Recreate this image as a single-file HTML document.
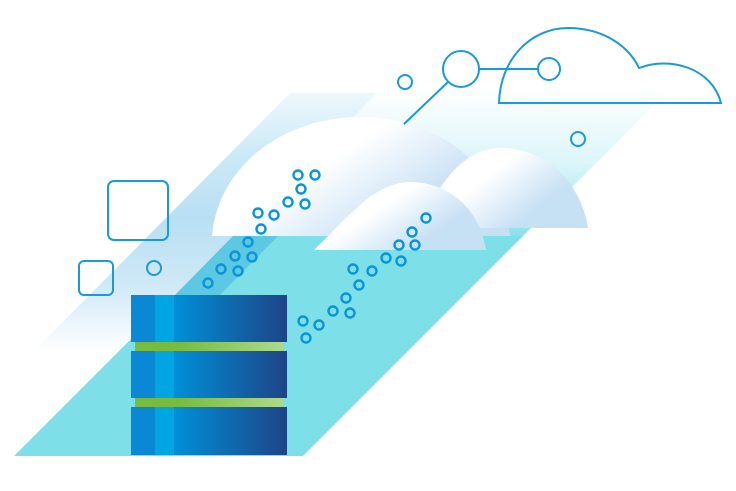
<!DOCTYPE html>
<html><head><meta charset="utf-8"><style>html,body{margin:0;padding:0;background:#fff}svg{display:block}</style></head>
<body>
<svg width="736" height="491" viewBox="0 0 736 491" xmlns="http://www.w3.org/2000/svg">
<defs>
<linearGradient id="band" x1="0" y1="85" x2="0" y2="352" gradientUnits="userSpaceOnUse">
<stop offset="0" stop-color="#f2f9fd"/><stop offset="0.25" stop-color="#cdeaf7"/><stop offset="0.5" stop-color="#b8dff3"/><stop offset="0.75" stop-color="#cfe9f7"/><stop offset="1" stop-color="#ffffff"/></linearGradient>
<linearGradient id="cy" x1="0" y1="88" x2="0" y2="240" gradientUnits="userSpaceOnUse">
<stop offset="0" stop-color="#ffffff"/><stop offset="0.5" stop-color="#dbf5f9"/><stop offset="1" stop-color="#86e0ea"/></linearGradient>
<linearGradient id="cl" x1="0" y1="0" x2="1" y2="0.6">
<stop offset="0.45" stop-color="#ffffff"/><stop offset="0.85" stop-color="#c6e0f4"/></linearGradient>
<linearGradient id="srv" x1="174" y1="0" x2="287" y2="0" gradientUnits="userSpaceOnUse">
<stop offset="0" stop-color="#0090d8"/><stop offset="1" stop-color="#1e4488"/></linearGradient>
<linearGradient id="gr" x1="135" y1="0" x2="283" y2="0" gradientUnits="userSpaceOnUse">
<stop offset="0.3" stop-color="#78bb43"/><stop offset="1" stop-color="#acd98c"/></linearGradient>
</defs>
<polygon points="290,93 430,93 173,352 33,352" fill="url(#band)"/>
<polygon points="380,90 669,90 523,236 234,236" fill="url(#cy)"/>
<polygon points="234,236 523,236 303,456 14,456" fill="#7ddfe8"/>
<polygon points="233,236 278,236 220,295 175,295" fill="#5cc8e3"/>
<path d="M212,236 C218,165 285,117 360,117 C440,117 502,170 510,236 Z" fill="url(#cl)"/>
<path d="M420,228 C440,175 470,148 500,148 C545,148 580,180 588,228 Z" fill="url(#cl)"/>
<path d="M314,250 C350,215 375,182 410,182 C450,182 480,210 486,250 Z" fill="url(#cl)"/>
<path d="M499,103 C500,60 530,28 568,28 C602,28 628,45 639,68 C670,56 712,68 721,103 Z" fill="none" stroke="#1a9ad8" stroke-width="2"/>
<g fill="none" stroke="#1a9ad8" stroke-width="2">
<circle cx="461" cy="69" r="18" fill="#fff"/><circle cx="549" cy="69" r="11" fill="#fff"/>
<line x1="479" y1="69" x2="538" y2="69"/><line x1="448" y1="82" x2="404" y2="124"/>
<circle cx="405" cy="82" r="7"/><circle cx="578" cy="139" r="7"/><circle cx="154" cy="268" r="7"/>
<rect x="108" y="181" width="60" height="59" rx="6"/><rect x="79" y="261" width="34" height="34" rx="5"/>
</g>
<g>
<rect x="131" y="295" width="156" height="47" fill="url(#srv)"/><rect x="131" y="351" width="156" height="47" fill="url(#srv)"/><rect x="131" y="407" width="156" height="48" fill="url(#srv)"/>
<rect x="131" y="295" width="24" height="47" fill="#0a88d6"/><rect x="155" y="295" width="19" height="47" fill="#00a6e2"/>
<rect x="131" y="351" width="24" height="47" fill="#0a88d6"/><rect x="155" y="351" width="19" height="47" fill="#00a6e2"/>
<rect x="131" y="407" width="24" height="48" fill="#0a88d6"/><rect x="155" y="407" width="19" height="48" fill="#00a6e2"/>
<rect x="135" y="342" width="148" height="9" fill="url(#gr)"/><rect x="135" y="398" width="148" height="9" fill="url(#gr)"/>
</g>
<g fill="none" stroke="#0a94d9" stroke-width="2.4">
<circle cx="298" cy="175" r="4.5"/><circle cx="315" cy="175" r="4.5"/><circle cx="301" cy="189" r="4.5"/><circle cx="288" cy="202" r="4.5"/><circle cx="305" cy="204" r="4.5"/><circle cx="258" cy="213" r="4.5"/><circle cx="274" cy="215" r="4.5"/><circle cx="261" cy="229" r="4.5"/><circle cx="248" cy="242" r="4.5"/><circle cx="235" cy="256" r="4.5"/><circle cx="252" cy="257" r="4.5"/><circle cx="221" cy="269" r="4.5"/><circle cx="238" cy="271" r="4.5"/><circle cx="208" cy="283" r="4.5"/>
<circle cx="426" cy="218" r="4.5"/><circle cx="412" cy="232" r="4.5"/><circle cx="399" cy="245" r="4.5"/><circle cx="415" cy="245" r="4.5"/><circle cx="386" cy="258" r="4.5"/><circle cx="401" cy="261" r="4.5"/><circle cx="353" cy="269" r="4.5"/><circle cx="372" cy="271" r="4.5"/><circle cx="359" cy="285" r="4.5"/><circle cx="346" cy="298" r="4.5"/><circle cx="333" cy="311" r="4.5"/><circle cx="350" cy="313" r="4.5"/><circle cx="303" cy="321" r="4.5"/><circle cx="319" cy="325" r="4.5"/><circle cx="306" cy="338" r="4.5"/>
</g>
</svg>
</body></html>
